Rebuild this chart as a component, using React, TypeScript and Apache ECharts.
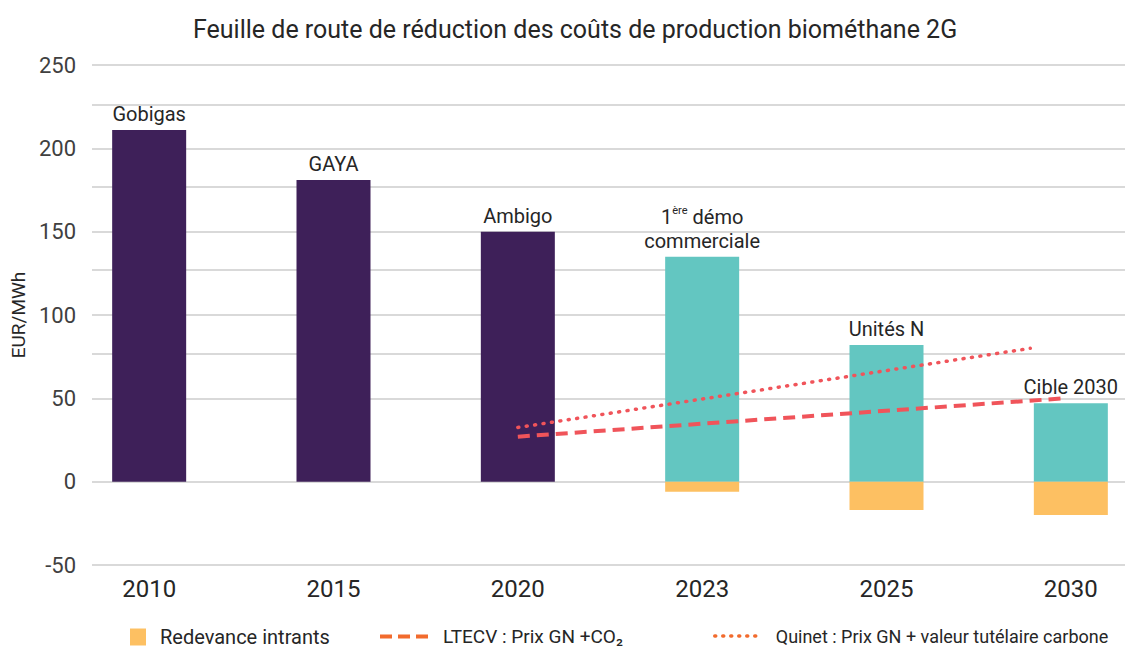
import React, { useEffect, useRef } from "react";
import * as echarts from "echarts";

const years = ["2010", "2015", "2020", "2023", "2025", "2030"];
const barLabels = ["Gobigas", "GAYA", "Ambigo", "1{sup|ère} démo\ncommerciale", "Unités N", "Cible 2030"];
const pilotValues = [211, 181, 150, null, null, null];
const commercialValues = [null, null, null, 135, 82, 47];
const redevanceValues = [null, null, null, -6, -17, -20];
const ltecvPoints = [[2, 27], [4.96, 50]];
const quinetPoints = [[2, 32.5], [4.78, 80]];
const minorGridValues = [226, 177, 127, 77];
const yMin = -50;
const yMax = 250;
const yInterval = 50;

const FONT = "Roboto";
const TXT = "#262626";
const CHART_W = 1163;

export default function App() {
  const ref = useRef<HTMLDivElement>(null);
  useEffect(() => {
    if (!ref.current) return;
    const chart = echarts.init(ref.current, null, { renderer: "svg" });
    const labelCfg = {
      show: true,
      position: "top",
      distance: 4,
      fontFamily: FONT,
      fontSize: 20,
      color: TXT,
      lineHeight: 24,
      formatter: (p: any) => barLabels[p.dataIndex],
      rich: { sup: { fontSize: 11, verticalAlign: "top", lineHeight: 14, fontFamily: FONT, color: TXT } },
    };
    const hiddenSymbol = { color: "rgba(0,0,0,0)", borderWidth: 0, opacity: 0 };
    chart.setOption({
      animation: false,
      textStyle: { fontFamily: FONT },
      title: {
        text: "Feuille de route de réduction des coûts de production biométhane 2G",
        left: 188,
        top: 12,
        textStyle: { fontFamily: FONT, fontSize: 25, fontWeight: "normal", color: TXT },
      },
      legend: [
        {
          data: [{ name: "Redevance intrants", icon: "rect" }],
          left: 130,
          top: 627,
          padding: 0,
          itemWidth: 16,
          itemHeight: 17,
          textStyle: { fontFamily: FONT, fontSize: 20, color: TXT, padding: [0, 0, 0, 9] },
        },
        {
          data: [
            {
              name: "LTECV : Prix GN +CO₂",
              itemStyle: hiddenSymbol,
              lineStyle: { color: "#F26B2D", width: 4, type: [12, 6] },
            },
          ],
          left: 378,
          top: 627,
          padding: 0,
          itemWidth: 52,
          itemHeight: 17,
          textStyle: { fontFamily: FONT, fontSize: 19, color: TXT, padding: [0, 0, 0, 6] },
        },
        {
          data: [
            {
              name: "Quinet : Prix GN + valeur tutélaire carbone",
              itemStyle: hiddenSymbol,
              lineStyle: { color: "#F26B2D", width: 3.5, type: [1, 7], cap: "round" },
            },
          ],
          left: 713,
          top: 627,
          padding: 0,
          itemWidth: 47,
          itemHeight: 17,
          textStyle: { fontFamily: FONT, fontSize: 18, color: TXT, padding: [0, 0, 0, 9] },
        },
      ],
      grid: [
        { left: 92, right: CHART_W - 1125, top: 65, bottom: 84 },
        { left: 57, right: 0, top: 65, bottom: 84 },
      ],
      xAxis: [
        { type: "value", gridIndex: 0, show: false, min: 0, max: 1 },
        {
          type: "category",
          gridIndex: 1,
          data: years,
          axisLine: { show: false },
          axisTick: { show: false },
          axisLabel: { fontFamily: FONT, fontSize: 24, color: TXT, margin: 12 },
        },
        { type: "value", gridIndex: 1, show: false, min: -0.5, max: 5.5 },
      ],
      yAxis: [
        {
          type: "value",
          gridIndex: 0,
          min: yMin,
          max: yMax,
          interval: yInterval,
          name: "EUR/MWh",
          nameLocation: "middle",
          nameGap: 62,
          nameTextStyle: { fontFamily: FONT, fontSize: 19, color: TXT },
          axisLine: { show: false },
          axisTick: { show: false },
          axisLabel: { fontFamily: FONT, fontSize: 22, color: "#404040", margin: 16 },
          splitLine: { lineStyle: { color: "#D9D9D9", width: 2 } },
        },
        { type: "value", gridIndex: 1, min: yMin, max: yMax, show: false, splitLine: { show: false } },
      ],
      series: [
        {
          type: "line",
          xAxisIndex: 0,
          yAxisIndex: 0,
          data: [],
          silent: true,
          z: 0,
          markLine: {
            silent: true,
            z: 0,
            symbol: "none",
            label: { show: false },
            lineStyle: { color: "#D9D9D9", width: 2, type: "solid" },
            data: minorGridValues.map((v) => ({ yAxis: v })),
          },
        },
        {
          name: "Pilotes",
          type: "bar",
          xAxisIndex: 1,
          yAxisIndex: 1,
          stack: "total",
          barWidth: 74,
          z: 3,
          data: pilotValues,
          itemStyle: { color: "#3E2059" },
          label: labelCfg,
        },
        {
          name: "Commercial",
          type: "bar",
          xAxisIndex: 1,
          yAxisIndex: 1,
          stack: "total",
          barWidth: 74,
          z: 3,
          data: commercialValues,
          itemStyle: { color: "#63C6C1" },
          label: labelCfg,
        },
        {
          name: "Redevance intrants",
          type: "bar",
          xAxisIndex: 1,
          yAxisIndex: 1,
          stack: "total",
          barWidth: 74,
          z: 3,
          data: redevanceValues,
          itemStyle: { color: "#FDC062" },
        },
        {
          name: "LTECV : Prix GN +CO₂",
          type: "line",
          xAxisIndex: 2,
          yAxisIndex: 1,
          z: 4,
          data: ltecvPoints,
          symbol: "none",
          lineStyle: { color: "#F0545A", width: 4, type: [12, 7] },
        },
        {
          name: "Quinet : Prix GN + valeur tutélaire carbone",
          type: "line",
          xAxisIndex: 2,
          yAxisIndex: 1,
          z: 4,
          data: quinetPoints,
          symbol: "none",
          lineStyle: { color: "#F0545A", width: 3.5, type: [1, 7.5], cap: "round" },
        },
      ],
    });
    return () => chart.dispose();
  }, []);
  return (
    <div style={{ position: "fixed", left: 0, top: 0, width: 1125, height: 649, overflow: "hidden", background: "#fff" }}>
      <div ref={ref} style={{ width: CHART_W, height: 649 }} />
    </div>
  );
}
